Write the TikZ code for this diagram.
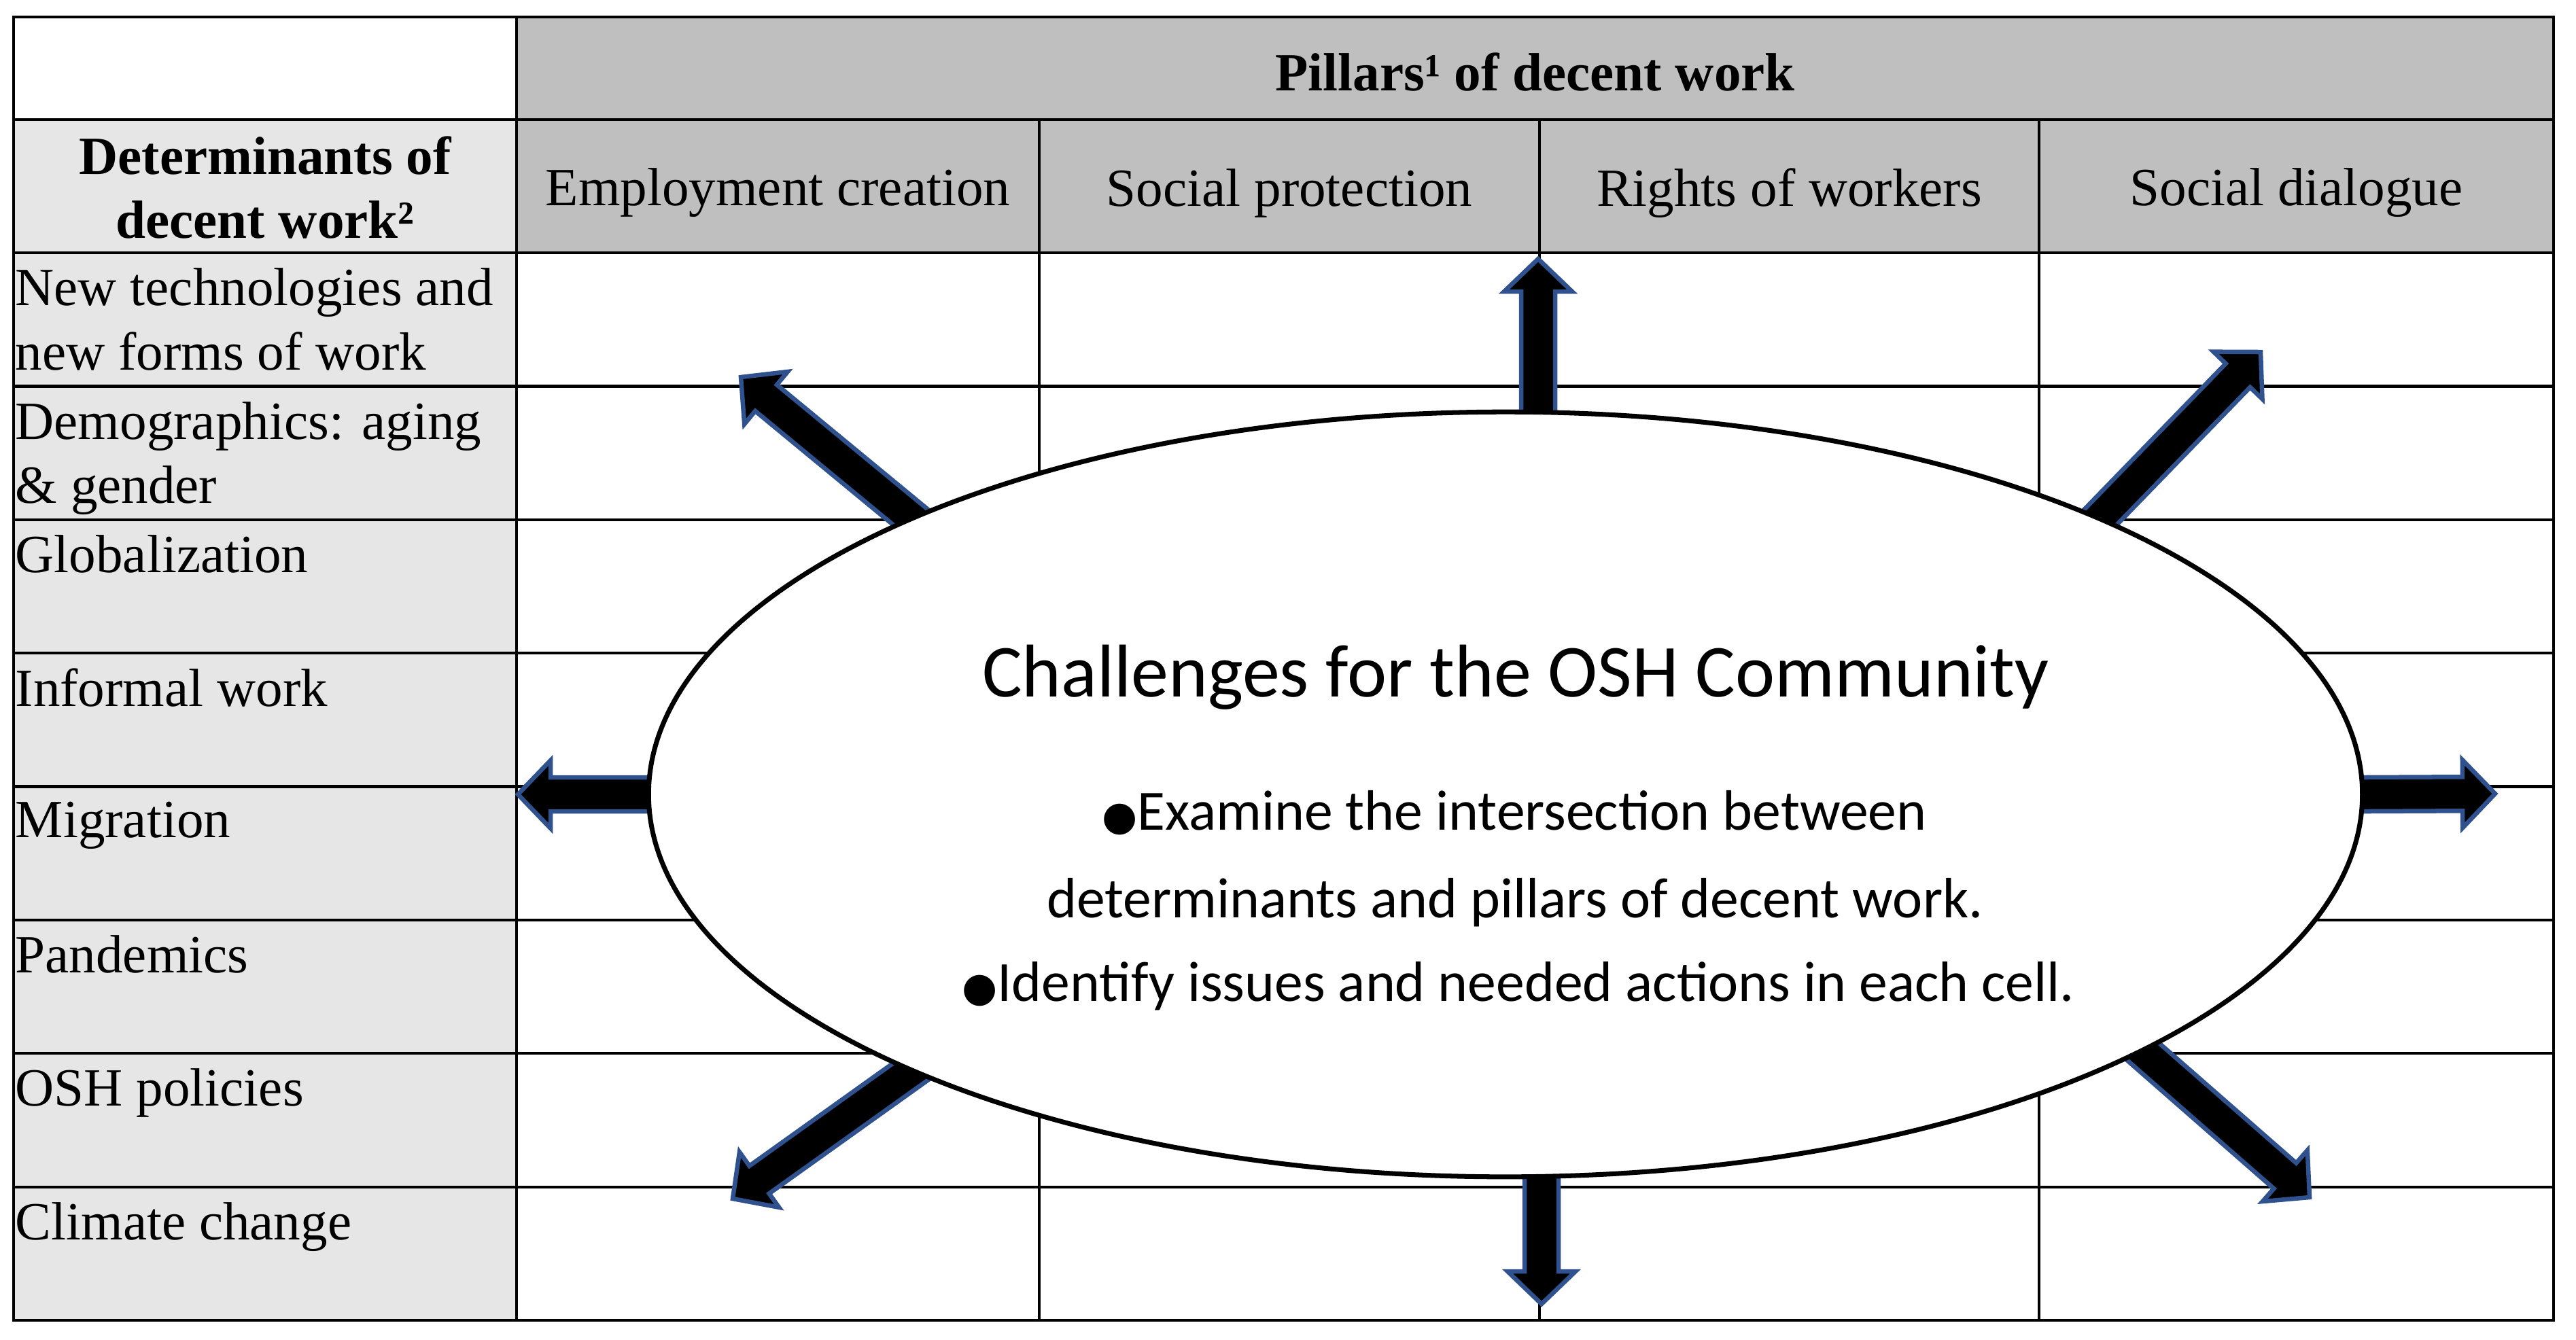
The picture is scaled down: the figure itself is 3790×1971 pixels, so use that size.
\documentclass[tikz,border=0pt]{standalone}
\usepackage{fontspec}
\setmainfont{Liberation Serif}
\newfontfamily\calibri{Carlito}
\newfontfamily\bulletfont{DejaVu Sans}
\usetikzlibrary{calc,shapes.geometric}
\definecolor{HeadGray}{HTML}{BFBFBF}
\definecolor{SideGray}{HTML}{E6E6E6}
\definecolor{ArrowBlue}{HTML}{2F528F}
\pgfdeclarelayer{front}
\pgfsetlayers{main,front}
\tikzset{
  headtext/.style={font=\bfseries\fontsize{22.5}{27}\selectfont, align=center},
  colhead/.style={font=\fontsize{22.5}{27}\selectfont, anchor=center},
  rowlabel/.style={font=\fontsize{22.5}{27}\selectfont, align=left,
                   anchor=north west, inner sep=0pt},
  hline/.style={line width=1.2pt},
  vline/.style={line width=1pt},
  blockarrow/.style={draw=ArrowBlue, fill=black, line width=1.85pt, line join=miter},
  bubble/.style={ellipse, draw, fill=white, line width=2pt, inner sep=0pt,
                 minimum width=25.2cm, minimum height=11.25cm},
  bubbletitle/.style={font=\calibri\fontsize{31.3}{36}\selectfont, anchor=base},
  bubbletext/.style={font=\calibri\fontsize{23.8}{30}\selectfont, anchor=base},
}

\begin{document}
\begin{tikzpicture}[x=0.01cm, y=-0.01cm]
  \useasboundingbox (0,0) rectangle (3790,1971);

  \def\xl{20}  \def\xr{3757}
  \def\yt{25}  \def\ybot{1943}
  \def\xa{760} \def\xb{1529} \def\xc{2265} \def\xd{3000}
  \def\yh{176} \def\yr{372}  \def\rowh{196.375}
  \def\shaftw{0.25cm}
  \def\headw{0.5cm}
  \def\headlen{0.48cm}

  % shaded cells
  \fill[HeadGray] (\xa,\yt) rectangle (\xr,\yr);
  \fill[SideGray] (\xl,\yh) rectangle (\xa,\ybot);

  % grid
  \foreach \y in {\yh,\yr}
    \draw[hline] (\xl,\y) -- (\xr,\y);
  \foreach \i in {1,...,7}
    \draw[hline] (\xl,{\yr+\i*\rowh}) -- (\xr,{\yr+\i*\rowh});
  \foreach \x in {\xb,\xc,\xd}
    \draw[vline] (\x,\yh) -- (\x,\ybot);
  \draw[vline] (\xa,\yt) -- (\xa,\ybot);
  \draw[hline] (\xl,\yt) rectangle (\xr,\ybot);

  % header texts
  \node[headtext] (pillars) at ({(\xa+\xr)/2},106) {Pillars¹ of decent work};
  \node[headtext] (determ) at ({(\xl+\xa)/2},276) {Determinants of\\decent work²};
  \node[colhead] (employ) at ({(\xa+\xb)/2},284) {Employment creation};
  \node[colhead] (protect) at ({(\xb+\xc)/2},284) {Social protection};
  \node[colhead] (rights) at ({(\xc+\xd)/2},284) {Rights of workers};
  \node[colhead] (dialog) at ({(\xd+\xr)/2},284) {Social dialogue};

  % determinants
  \foreach \lab [count=\i from 0] in {{New technologies and\\new forms of work},
      {Demographics: aging\\\& gender}, Globalization, Informal work,
      Migration, Pandemics, OSH policies, Climate change}
    \node[rowlabel] (det\i) at (22,{\yr+\i*\rowh+22}) {\lab};

  % central oval
  \begin{pgfonlayer}{front}
    \node[bubble] (oval) at (2215,1169) {};
    \node[bubbletitle] (chal) at (2230,1025) {Challenges for the OSH Community};
    \node[bubbletext] (exam) at (2228,1221)
      {{\bulletfont\fontsize{17}{17}\selectfont ●}Examine the intersection between};
    \node[bubbletext] (exam2) at (2229,1350) {determinants and pillars of decent work.};
    \node[bubbletext] (ident) at (2234,1473)
      {{\bulletfont\fontsize{17}{17}\selectfont ●}Identify issues and needed actions in each cell.};
  \end{pgfonlayer}

  % arrow tips
  \coordinate (tN)  at (2263,381);
  \coordinate (tS)  at (2268,1919);
  \coordinate (tW)  at (762,1169);
  \coordinate (tE)  at (3671,1168);
  \coordinate (tNW) at (1090,555);
  \coordinate (tNE) at (3326,518);
  \coordinate (tSW) at (1078,1764);
  \coordinate (tSE) at (3398,1762);
  \coordinate (bN) at (tN |- oval.north);
  \coordinate (bS) at (tS |- oval.south);

  % block arrows out of the oval
  \foreach \b/\t in {bN/tN, bS/tS, oval.west/tW, oval.east/tE,
                     oval.155/tNW, oval.25/tNE, oval.205/tSW, oval.338/tSE} {
    \coordinate (root) at ($(\b)!-0.4cm!(\t)$);
    \coordinate (neck) at ($(\t)!\headlen!(\b)$);
    \draw[blockarrow] ($(root)!\shaftw!90:(\t)$) -- ($(neck)!\shaftw!90:(\t)$)
      -- ($(neck)!\headw!90:(\t)$) -- (\t) -- ($(neck)!\headw!-90:(\t)$)
      -- ($(neck)!\shaftw!-90:(\t)$) -- ($(root)!\shaftw!-90:(\t)$) -- cycle;
  }

\end{tikzpicture}
\end{document}
